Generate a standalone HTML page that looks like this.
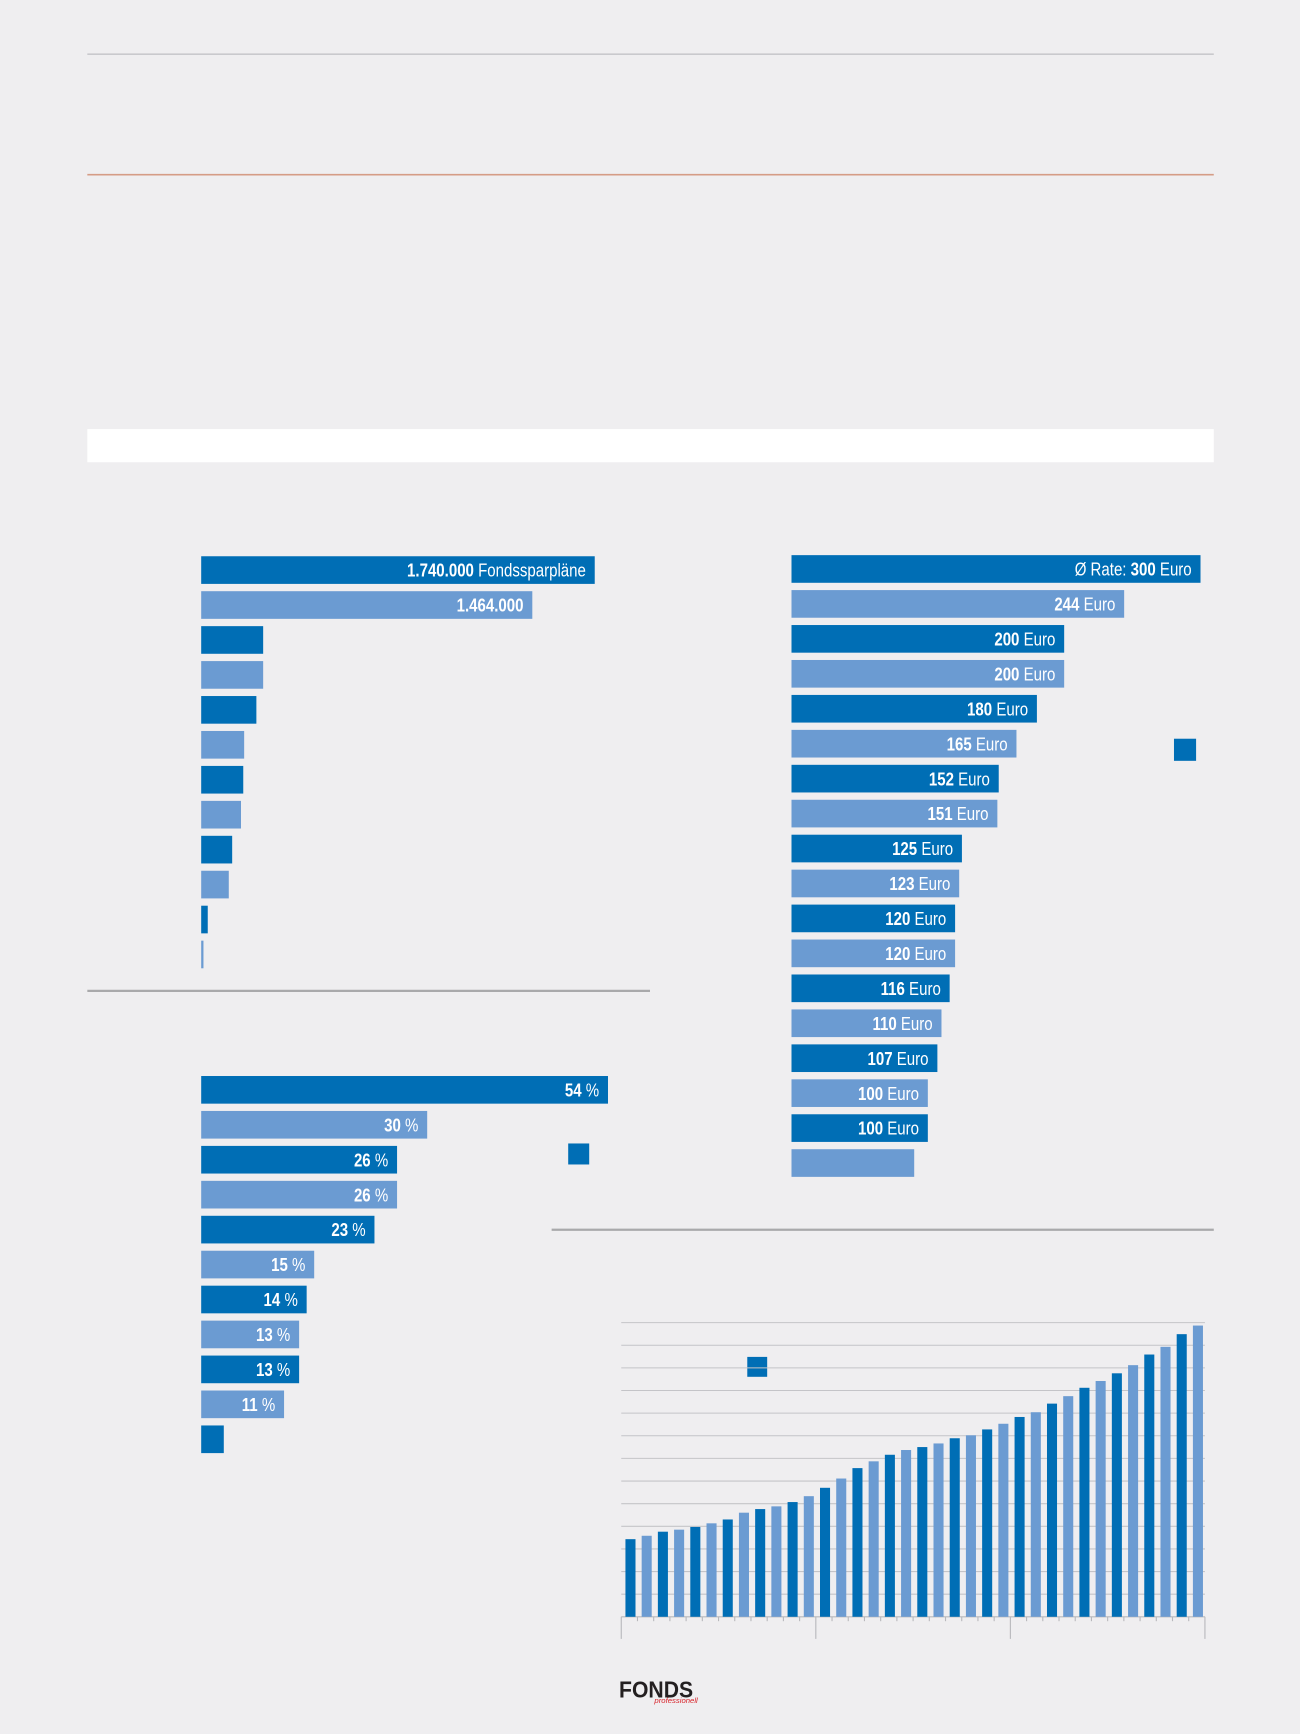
<!DOCTYPE html>
<html><head><meta charset="utf-8">
<style>
html,body{margin:0;padding:0;background:#efeef0;}
svg{display:block;font-family:"Liberation Sans",sans-serif;}
</style></head>
<body>
<svg id="page" width="1300" height="1734" viewBox="0 0 1176 1568" preserveAspectRatio="none">
<rect x="0" y="0" width="1176" height="1568" fill="#efeef0"/>
<line x1="79" y1="49" x2="1098" y2="49" stroke="#c9c9cd" stroke-width="1.5"/>
<line x1="79" y1="158" x2="1098" y2="158" stroke="#d59c86" stroke-width="1.5"/>
<rect x="79" y="388" width="1019" height="30" fill="#ffffff"/>
<line x1="79" y1="896" x2="588" y2="896" stroke="#a9a9ab" stroke-width="2"/>
<line x1="499" y1="1112" x2="1098" y2="1112" stroke="#a9a9ab" stroke-width="2"/>
<rect x="514" y="1034" width="19" height="19" fill="#006eb5"/>
<rect x="1062" y="668" width="20" height="20" fill="#006eb5"/>
<rect x="676" y="1227" width="18" height="18" fill="#006eb5"/>
<g id="c1"></g>
<g id="c2"></g>
<g id="c3"></g>
<g id="c4"></g>
<g>
<text x="560" y="1535" font-size="21" font-weight="bold" fill="#231f20" textLength="67" lengthAdjust="spacingAndGlyphs">FONDS</text>
<text x="592" y="1540" font-size="7" font-style="italic" fill="#d8232a">professionell</text>
</g>
</svg>
<script>
const NS='http://www.w3.org/2000/svg';
const DARK='#006eb5', LIGHT='#6b9bd2';
// Chart 1: number of fund savings plans
const c1Values=[1740000,1464000,274000,274000,244000,190000,186000,176000,137000,122000,29000,10000];
const c1Labels=[['1.740.000',' Fondssparpläne'],['1.464.000',''],null,null,null,null,null,null,null,null,null,null];
// Chart 2: shares in percent
const c2Values=[54,30,26,26,23,15,14,13,13,11,3];
const c2Labels=['54','30','26','26','23','15','14','13','13','11',null];
// Chart 3: average rate in Euro
const c3Values=[300,244,200,200,180,165,152,151,125,123,120,120,116,110,107,100,100,90];
const c3Labels=['300','244','200','200','180','165','152','151','125','123','120','120','116','110','107','100','100',null];
// Chart 4: growth columns
const c4Values=[3.43,3.58,3.76,3.85,3.97,4.13,4.30,4.60,4.76,4.88,5.07,5.33,5.70,6.11,6.57,6.87,7.16,7.37,7.50,7.66,7.89,8.02,8.28,8.53,8.83,9.04,9.42,9.75,10.12,10.42,10.76,11.12,11.59,11.93,12.49,12.87];
const c4Ticks=[0,1,2,3,4,5,6,7,8,9,10,11,12,13];

function mk(tag,attrs,parent){const e=document.createElementNS(NS,tag);for(const k in attrs)e.setAttribute(k,attrs[k]);parent.appendChild(e);return e;}

function hbars(gid,values,max,x0,xMax,y0,pitch,h,labelFn,name){
  const g=document.getElementById(gid);
  const sx=v=>x0+(v/max)*(xMax-x0);
  values.forEach((v,i)=>{
    const y=y0+i*pitch;
    const r=mk('rect',{x:x0,y:y,width:sx(v)-x0,height:h,fill:i%2?LIGHT:DARK},g);
    
    
    const lab=labelFn(i);
    if(lab){
      const t=mk('text',{x:0,y:0,'text-anchor':'end','font-size':17,fill:'#fff',transform:'translate('+(sx(v)-8)+','+(y+h/2+6)+') scale(0.8,1)'},g);
      
      
      lab.forEach((p,j)=>{if(!p[0])return;const s=mk('tspan',{},t);if(p[1])s.setAttribute('font-weight','bold');s.textContent=p[0];});
    }
  });
}
hbars('c1',c1Values,1740000,182,538,503,31.6,25,i=>c1Labels[i]?[[c1Labels[i][0],true],[c1Labels[i][1],false]]:null,'plans');
hbars('c2',c2Values,54,182,550,973,31.6,25,i=>c2Labels[i]?[[c2Labels[i],true],[' %',false]]:null,'share');
hbars('c3',c3Values,300,716,1086,502,31.6,25,i=>c3Labels[i]?(i===0?[['Ø Rate: ',false],[c3Labels[i],true],[' Euro',false]]:[[c3Labels[i],true],[' Euro',false]]):null,'rate');

// column chart
(function(){
  const g=document.getElementById('c4');
  const base=1462, top=1196, xL=562, xR=1090;
  const maxV=c4Ticks[c4Ticks.length-1];
  const sy=v=>base-(v/maxV)*(base-top);
  c4Ticks.forEach((t,i)=>{
    const l=mk('line',{x1:xL,x2:xR,y1:sy(t),y2:sy(t),stroke:i===0?'#b8b8bc':'#c4c4c8','stroke-width':1},g);
    
    
  });
  const n=c4Values.length, pitch=(xR-xL)/n, w=pitch*0.62;
  const sx=i=>xL+pitch*i+(pitch-w)/2+1;
  c4Values.forEach((v,i)=>{
    const r=mk('rect',{x:sx(i),y:sy(v),width:w,height:base-sy(v),fill:i%2?LIGHT:DARK},g);
    
    
  });
  for(let i=0;i<=n;i++){
    const x=xL+pitch*i;
    const big=i%12===0;
    const l=mk('line',{x1:x,x2:x,y1:base,y2:big?base+20:base+4,stroke:'#b8b8bc','stroke-width':1},g);
    
    
  }
})();
</script>
</body></html>
